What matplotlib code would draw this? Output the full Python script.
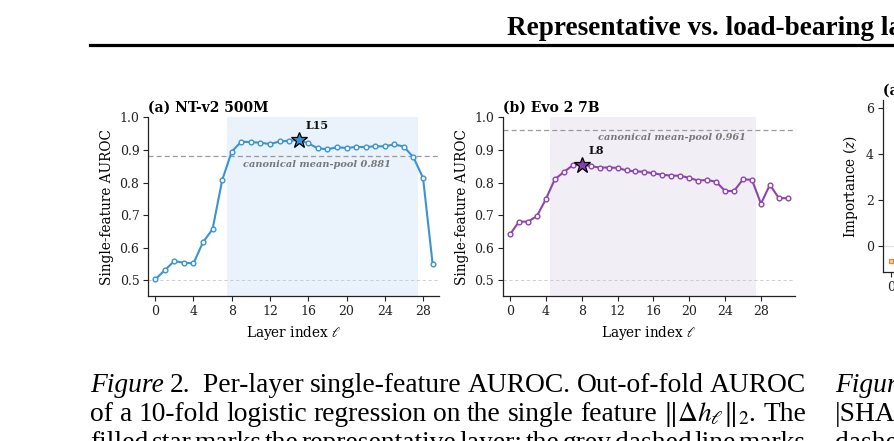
import matplotlib
matplotlib.use("Agg")
import matplotlib.pyplot as plt

# ---------------- data ----------------
layers_a = list(range(30))
auroc_a = [0.503, 0.531, 0.559, 0.554, 0.552, 0.617, 0.657, 0.807, 0.895, 0.925,
           0.924, 0.922, 0.918, 0.926, 0.928, 0.931, 0.920, 0.905, 0.902, 0.908,
           0.906, 0.909, 0.909, 0.911, 0.911, 0.917, 0.910, 0.877, 0.814, 0.551]
layers_b = list(range(32))
auroc_b = [0.641, 0.680, 0.680, 0.697, 0.749, 0.810, 0.832, 0.853, 0.855, 0.850,
           0.846, 0.846, 0.845, 0.837, 0.834, 0.833, 0.828, 0.824, 0.821, 0.821,
           0.814, 0.806, 0.808, 0.802, 0.774, 0.774, 0.810, 0.808, 0.735, 0.793,
           0.752, 0.752]
canon_a = 0.881
canon_b = 0.961
star_a = 15
star_b = 8
band_a = (7.5, 27.5)
band_b = (4.5, 27.5)
xticks = [0, 4, 8, 12, 16, 20, 24, 28]
yticks = [0.5, 0.6, 0.7, 0.8, 0.9, 1.0]
imp_layers = [0]
imp_vals = [-0.65]
imp_yticks = [0, 2, 4, 6]

W, H = 895, 441
fig = plt.figure(figsize=(W / 100, H / 100), dpi=100)
plt.rcParams['font.family'] = 'DejaVu Serif'
plt.rcParams['mathtext.fontset'] = 'dejavuserif'

TICK = 9
LAB = 9.8
TTL = 10


def px(l, t, r, b):
    return [l / W, 1 - b / H, (r - l) / W, (b - t) / H]


def style_axes(ax):
    for s in ['top', 'right']:
        ax.spines[s].set_visible(False)
    for s in ['left', 'bottom']:
        ax.spines[s].set_linewidth(0.9)
        ax.spines[s].set_color('#222222')
    ax.tick_params(labelsize=TICK, length=3.5, width=0.8, colors='#222222', pad=3)


def panel(rect, x, y, color, shade, starfill, band, star, canon, title, xlim):
    ax = fig.add_axes(px(*rect))
    ax.axvspan(band[0], band[1], color=shade, zorder=0, lw=0)
    ax.axhline(0.5, color='#c8c8c8', lw=0.6, ls=(0, (4, 3)), zorder=1)
    ax.axhline(canon, color='#9a9a9a', lw=0.9, ls=(0, (4, 2.5)), zorder=1)
    ax.plot(x, y, color=color, lw=1.5, marker='o', ms=3.4, mfc='white',
            mec=color, mew=1.0, zorder=3)
    ax.plot([x[star]], [y[star]], marker='*', ms=12, mfc=starfill, mec='black',
            mew=0.9, zorder=4, ls='none')
    ax.annotate(f"L{star}", (x[star], y[star]), xytext=(5, 6),
                textcoords='offset points', fontsize=8, fontweight='bold',
                va='bottom', ha='left', color='#111111')
    ax.annotate(f"canonical mean-pool {canon:.3f}", xy=(0.578, canon),
                xycoords=('axes fraction', 'data'), xytext=(0, -2.5),
                textcoords='offset points', ha='center', va='top', fontsize=7.0,
                style='italic', weight='bold', color='#777777')
    ax.set_xlim(*xlim)
    ax.set_ylim(0.452, 1.0)
    ax.set_xticks(xticks)
    ax.set_yticks(yticks)
    ax.set_yticklabels([f"{v:.1f}" for v in yticks])
    ax.set_xlabel(r"Layer index $\ell$", fontsize=LAB, labelpad=4)
    ax.set_ylabel("Single-feature AUROC", fontsize=LAB, labelpad=4)
    ax.set_title(title, loc='left', fontsize=TTL, fontweight='bold', pad=4)
    style_axes(ax)
    return ax


panel((148.5, 117.3, 439.3, 296), layers_a, auroc_a, '#3a93d3', '#eaf2fb',
      '#3a8fd0', band_a, star_a, canon_a, "(a) NT-v2 500M", (-0.7, 29.7))
panel((503.3, 117.3, 795, 296), layers_b, auroc_b, '#8e44ad', '#f2eef6',
      '#8a3fb0', band_b, star_b, canon_b, "(b) Evo 2 7B", (-0.75, 31.8))

# partial third panel (cut by the page edge)
axc = fig.add_axes(px(882.7, 100, 1230, 272.3))
axc.axhline(0, color='#e0e0e0', lw=0.8, zorder=0)
axc.plot(imp_layers, imp_vals, color='#e08a2c', marker='s', ms=3.5, mfc='#f6d2a8',
         mec='#e08a2c', mew=0.9, lw=1.2)
axc.set_xlim(-0.5, 20)
axc.set_ylim(-1.16, 6.36)
axc.set_yticks(imp_yticks)
axc.set_xticks([0])
axc.set_ylabel(r"Importance ($z$)", fontsize=LAB, labelpad=4)
axc.set_title("(a) NT-v2 500M", loc='left', fontsize=TTL, fontweight='bold', pad=4)
style_axes(axc)

# ---------------- page header ----------------
fig.text(507 / W, 1 - 35 / H, "Representative vs. load-bearing layers",
         fontsize=19.6, fontweight='bold', family='Liberation Serif',
         ha='left', va='baseline')
fig.add_artist(plt.Line2D([90 / W, 1.0], [1 - 44.5 / H] * 2, color='black', lw=2.3,
                          transform=fig.transFigure))

# ---------------- caption ----------------
renderer = fig.canvas.get_renderer()
CAP = 19.8


def justified(tokens, x0, x1, ybase, fontsize=CAP, justify=True):
    items = []
    for s, kw in tokens:
        t = fig.text(0, 1 - ybase / H, s, fontsize=fontsize, family='Liberation Serif',
                     va='baseline', ha='left', math_fontfamily='stix', **kw)
        items.append(t)
    widths = [t.get_window_extent(renderer).width for t in items]
    if justify and len(items) > 1:
        gap = (x1 - x0 - sum(widths)) / (len(items) - 1)
    else:
        gap = fontsize * 1.389 * 0.25
    x = x0
    for t, w in zip(items, widths):
        t.set_x(x / W)
        x += w + gap


it = {'style': 'italic'}
n = {}
line1 = [("Figure", it), ("2.", n), (" Per-layer", n), ("single-feature", n),
         ("AUROC.", n), ("Out-of-fold", n), ("AUROC", n)]
line2 = [("of", n), ("a", n), ("10-fold", n), ("logistic", n), ("regression", n),
         ("on", n), ("the", n), ("single", n), ("feature", n),
         (r"$\|\Delta h_\ell\|_2$.", n), ("The", n)]
line3 = [("filled", n), ("star", n), ("marks", n), ("the", n), ("representative", n),
         ("layer;", n), ("the", n), ("grey", n), ("dashed", n), ("line", n),
         ("marks", n)]
justified(line1, 90, 806, 392)
justified(line2, 90, 806, 421)
justified(line3, 90, 806, 450)

justified([("Figure", it), ("3.", n), ("  Per-layer", n)], 835, 1100, 392, justify=False)
justified([("|SHAP|", n), ("importance", n)], 835, 1100, 421, justify=False)
justified([("dashed", n), ("line", n)], 835, 1100, 450, justify=False)

fig.savefig("out.png", dpi=100)
